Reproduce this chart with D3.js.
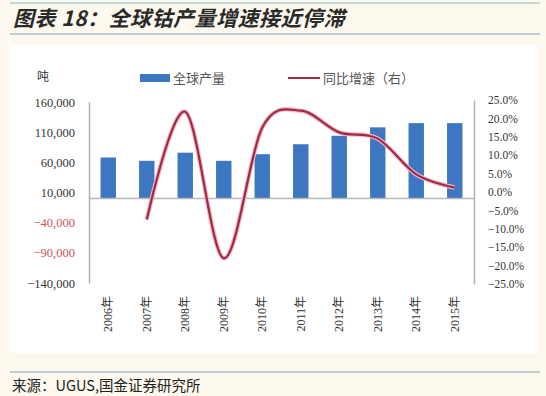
<!DOCTYPE html>
<html>
<head>
<meta charset="utf-8">
<script src="https://cdn.jsdelivr.net/npm/d3@7"></script>
<style>
  body { margin: 0; background: #fdf9ee; }
  svg { display: block; }
</style>
</head>
<body>
<div id="chart"></div>
<script>
// data
const years = ["2006年", "2007年", "2008年", "2009年", "2010年", "2011年", "2012年", "2013年", "2014年", "2015年"];
const output = [68000, 62500, 76000, 62500, 73500, 90000, 104000, 118000, 125000, 125000];
const growth = [null, -7.5, 21.8, -18.0, 17.5, 22.1, 16.2, 14.5, 4.8, 1.2];
const leftTicks = [160000, 110000, 60000, 10000, -40000, -90000, -140000];
const rightTicks = [25, 20, 15, 10, 5, 0, -5, -10, -15, -20, -25];

const width = 546, height = 396;

const svg = d3.select("#chart")
  .append("svg")
  .attr("width", width)
  .attr("height", height);

// white chart panel
svg.append("rect")
  .attr("x", 10).attr("y", 45)
  .attr("width", 527).attr("height", 308)
  .attr("fill", "#ffffff");

// title + rules
svg.append("line").attr("x1", 10).attr("x2", 540).attr("y1", 3).attr("y2", 3)
  .attr("stroke", "#8fb4c4").attr("stroke-width", 1);
svg.append("line").attr("x1", 10).attr("x2", 540).attr("y1", 34).attr("y2", 34)
  .attr("stroke", "#7fa6b8").attr("stroke-width", 1.2);
svg.append("text")
  .attr("x", 13).attr("y", 26)
  .attr("font-family", "Noto Sans CJK SC")
  .attr("font-size", 21)
  .attr("font-weight", "bold")
  .attr("font-style", "italic")
  .attr("letter-spacing", 0.5)
  .attr("fill", "#2a2a2a")
  .text("图表 18：全球钴产量增速接近停滞");

// source
svg.append("line").attr("x1", 10).attr("x2", 540).attr("y1", 372).attr("y2", 372)
  .attr("stroke", "#7fa6b8").attr("stroke-width", 1.2);
svg.append("text")
  .attr("x", 12).attr("y", 391)
  .attr("font-family", "Noto Sans CJK SC")
  .attr("font-size", 14.5)
  .attr("fill", "#222")
  .text("来源：UGUS,国金证券研究所");

// scales
const plotLeft = 89, plotRight = 474;

const x = d3.scaleBand()
  .domain(years)
  .range([plotLeft, plotRight])
  .paddingInner(0.6)
  .paddingOuter(0.3);

const xc = d => x(d) + x.bandwidth() / 2;

const y = d3.scaleLinear()
  .domain([-140000, 160000])
  .range([283, 102]);

const y2 = d3.scaleLinear()
  .domain([-25, 25])
  .range([284, 100]);

// left axis
const leftAxis = svg.append("g")
  .attr("transform", `translate(${plotLeft},0)`)
  .call(d3.axisLeft(y).tickValues(leftTicks).tickSize(0).tickPadding(14)
    .tickFormat(d3.format(",")));
leftAxis.select(".domain").attr("stroke", "#b0b0b0").attr("stroke-width", 1.5);
leftAxis.selectAll("text")
  .attr("font-family", "Liberation Serif")
  .attr("font-size", 12.5)
  .attr("fill", d => (d < 0 && d > -140000) ? "#d2505f" : "#333");

// right axis
const rightAxis = svg.append("g")
  .attr("transform", `translate(${plotRight},0)`)
  .call(d3.axisRight(y2).tickValues(rightTicks).tickSize(0).tickPadding(14)
    .tickFormat(d => d3.format(".1f")(d) + "%"));
rightAxis.select(".domain").attr("stroke", "#b0b0b0").attr("stroke-width", 1.5);
rightAxis.selectAll("text")
  .attr("font-family", "Liberation Serif")
  .attr("font-size", 11.5)
  .attr("fill", "#333");

// unit label
svg.append("text")
  .attr("x", 43).attr("y", 81)
  .attr("text-anchor", "middle")
  .attr("font-family", "Noto Sans CJK SC")
  .attr("font-size", 12)
  .attr("fill", "#333")
  .text("吨");

// bars
svg.selectAll("rect.bar")
  .data(years)
  .join("rect")
  .attr("class", "bar")
  .attr("x", d => x(d))
  .attr("y", (d, i) => y(output[i]))
  .attr("width", x.bandwidth())
  .attr("height", (d, i) => y(0) - y(output[i]))
  .attr("fill", "#3d77c1");

// zero line
svg.append("line")
  .attr("x1", plotLeft).attr("x2", plotRight)
  .attr("y1", y(0)).attr("y2", y(0))
  .attr("stroke", "#b8b8b8").attr("stroke-width", 1.5);

// growth line
const pts = years.map((d, i) => [xc(d), growth[i]]).filter(p => p[1] !== null);
const line = d3.line()
  .x(p => p[0])
  .y(p => y2(p[1]))
  .curve(d3.curveCatmullRom.alpha(0));

svg.append("path")
  .datum(pts)
  .attr("d", line)
  .attr("fill", "none")
  .attr("stroke", "#f3b8c4")
  .attr("stroke-width", 4.5);
svg.append("path")
  .datum(pts)
  .attr("d", line)
  .attr("fill", "none")
  .attr("stroke", "#9e2a45")
  .attr("stroke-width", 2.2);

// x labels, rotated
svg.append("g")
  .selectAll("text")
  .data(years)
  .join("text")
  .attr("transform", d => `translate(${xc(d) + 4},296) rotate(-90)`)
  .attr("text-anchor", "end")
  .attr("font-family", "Liberation Serif, Noto Sans CJK SC")
  .attr("font-size", 12)
  .attr("fill", "#333")
  .text(d => d);

// legend
svg.append("rect")
  .attr("x", 140).attr("y", 74)
  .attr("width", 30).attr("height", 8)
  .attr("fill", "#3d77c1");
svg.append("text")
  .attr("x", 173).attr("y", 83)
  .attr("font-family", "Noto Sans CJK SC")
  .attr("font-size", 13)
  .attr("fill", "#555")
  .text("全球产量");
svg.append("line")
  .attr("x1", 288).attr("x2", 320)
  .attr("y1", 78).attr("y2", 78)
  .attr("stroke", "#9e2a45").attr("stroke-width", 2);
svg.append("text")
  .attr("x", 323).attr("y", 83)
  .attr("font-family", "Noto Sans CJK SC")
  .attr("font-size", 13)
  .attr("fill", "#555")
  .text("同比增速（右）");
</script>
</body>
</html>
